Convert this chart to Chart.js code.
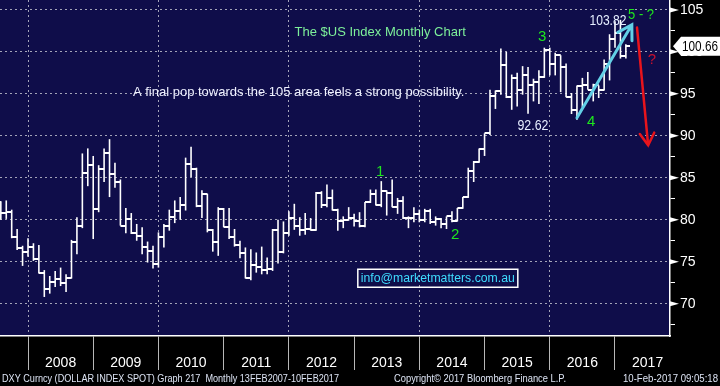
<!DOCTYPE html>
<html><head><meta charset="utf-8">
<script src="https://cdn.jsdelivr.net/npm/chart.js@4.4.1/dist/chart.umd.min.js"></script>
<style>html,body{margin:0;padding:0;background:#000;}canvas{display:block;}</style>
</head><body>
<canvas id="c" width="720" height="386"></canvas>
<script>
// ---- data (DXY monthly OHLC, Jul 2007 - Feb 2017) ----
const months = [
 '2007-07','2007-08','2007-09','2007-10','2007-11','2007-12',
 '2008-01','2008-02','2008-03','2008-04','2008-05','2008-06','2008-07','2008-08','2008-09','2008-10','2008-11','2008-12',
 '2009-01','2009-02','2009-03','2009-04','2009-05','2009-06','2009-07','2009-08','2009-09','2009-10','2009-11','2009-12',
 '2010-01','2010-02','2010-03','2010-04','2010-05','2010-06','2010-07','2010-08','2010-09','2010-10','2010-11','2010-12',
 '2011-01','2011-02','2011-03','2011-04','2011-05','2011-06','2011-07','2011-08','2011-09','2011-10','2011-11','2011-12',
 '2012-01','2012-02','2012-03','2012-04','2012-05','2012-06','2012-07','2012-08','2012-09','2012-10','2012-11','2012-12',
 '2013-01','2013-02','2013-03','2013-04','2013-05','2013-06','2013-07','2013-08','2013-09','2013-10','2013-11','2013-12',
 '2014-01','2014-02','2014-03','2014-04','2014-05','2014-06','2014-07','2014-08','2014-09','2014-10','2014-11','2014-12',
 '2015-01','2015-02','2015-03','2015-04','2015-05','2015-06','2015-07','2015-08','2015-09','2015-10','2015-11','2015-12',
 '2016-01','2016-02','2016-03','2016-04','2016-05','2016-06','2016-07','2016-08','2016-09','2016-10','2016-11','2016-12',
 '2017-01','2017-02'
];
const opens = [
 82.1, 80.8, 80.9, 77.9, 76.6, 76.1,
 76.7, 75.3, 73.7, 71.8, 72.6, 72.9, 72.5, 73.1, 77.3, 79.3, 85.6, 86.5,
 81.3, 86.0, 88.0, 85.4, 84.5, 79.3, 80.1, 78.4, 78.1, 76.7, 76.3, 74.7,
 77.9, 79.3, 80.3, 81.1, 81.8, 86.6, 86.0, 81.6, 83.1, 78.8, 77.4, 81.3,
 79.1, 77.9, 77.0, 76.0, 73.1, 74.6, 74.4, 74.0, 74.1, 78.8, 76.2, 78.4,
 80.2, 79.3, 78.8, 78.9, 78.8, 83.2, 81.7, 82.6, 81.2, 79.9, 80.0, 80.2,
 79.8, 79.2, 82.1, 83.1, 81.7, 83.4, 83.2, 81.5, 82.2, 80.2, 80.2, 80.7,
 80.0, 81.1, 79.7, 80.1, 79.5, 80.4, 79.8, 81.4, 82.7, 85.8, 86.9, 88.4,
 90.3, 94.8, 95.3, 98.4, 94.6, 96.9, 95.5, 97.3, 96.0, 96.4, 97.0, 100.2,
 98.6, 99.6, 98.2, 94.6, 93.1, 95.9, 96.1, 95.5, 96.0, 95.4, 98.5, 101.5,
 102.2, 99.5
];
const highs = [
 82.2, 82.3, 81.2, 78.9, 76.9, 77.8,
 77.2, 77.0, 74.0, 73.3, 73.9, 74.3, 73.5, 77.6, 80.3, 87.9, 88.5, 87.6,
 86.5, 88.5, 89.6, 86.8, 84.8, 81.4, 80.8, 79.5, 79.1, 77.4, 76.9, 78.5,
 79.5, 81.2, 82.3, 82.7, 87.4, 88.7, 86.2, 83.5, 83.1, 78.9, 81.5, 81.4,
 81.4, 78.9, 77.5, 76.7, 76.5, 76.1, 76.8, 75.5, 78.9, 80.0, 79.8, 81.0,
 81.9, 80.3, 80.8, 80.2, 83.3, 83.4, 84.2, 83.6, 81.3, 80.4, 81.5, 80.7,
 80.9, 82.1, 83.6, 83.6, 84.6, 83.5, 84.8, 82.6, 82.8, 80.4, 81.5, 81.2,
 81.3, 81.3, 80.4, 80.2, 80.4, 81.0, 81.4, 82.7, 86.2, 87.0, 88.5, 90.3,
 95.5, 95.4, 100.4, 100.0, 97.3, 97.5, 98.3, 98.2, 96.8, 97.8, 100.5, 100.5,
 99.9, 99.6, 98.6, 95.1, 96.0, 96.9, 97.6, 96.2, 96.0, 99.1, 102.1, 103.65,
 103.82, 100.9
];
const lows = [
 80.0, 80.1, 77.8, 76.4, 74.5, 75.6,
 75.1, 73.6, 70.8, 71.2, 72.0, 72.1, 71.4, 73.0, 75.9, 79.0, 84.0, 77.7,
 80.9, 84.5, 82.7, 83.8, 79.3, 78.4, 78.3, 77.5, 75.9, 74.9, 74.2, 74.3,
 76.7, 78.7, 79.6, 80.0, 81.1, 85.1, 81.5, 80.2, 78.5, 76.2, 75.7, 79.1,
 77.7, 76.8, 75.4, 73.0, 72.8, 73.7, 73.5, 73.5, 73.9, 74.8, 76.0, 78.1,
 78.8, 78.1, 78.2, 78.7, 78.7, 81.4, 81.5, 81.1, 78.7, 79.0, 79.9, 79.2,
 79.1, 79.1, 82.0, 81.7, 81.5, 80.5, 81.5, 80.7, 80.1, 79.0, 79.7, 79.7,
 79.7, 79.5, 79.3, 79.0, 78.9, 79.7, 79.8, 81.3, 82.6, 84.5, 86.8, 87.6,
 90.1, 93.2, 94.9, 94.5, 93.1, 93.5, 94.9, 92.62, 94.1, 93.8, 96.9, 97.2,
 97.2, 95.2, 94.6, 92.6, 91.9, 93.4, 95.5, 94.1, 94.5, 95.4, 96.6, 100.5,
 99.2, 99.2
];
const closes = [
 80.8, 80.9, 77.9, 76.6, 76.1, 76.7,
 75.3, 73.7, 71.8, 72.6, 72.9, 72.5, 73.1, 77.3, 79.3, 85.6, 86.5, 81.3,
 86.0, 88.0, 85.4, 84.5, 79.3, 80.1, 78.4, 78.1, 76.7, 76.3, 74.7, 77.9,
 79.3, 80.3, 81.1, 81.8, 86.6, 86.0, 81.6, 83.1, 78.8, 77.4, 81.3, 79.1,
 77.9, 77.0, 76.0, 73.1, 74.6, 74.4, 74.0, 74.1, 78.8, 76.2, 78.4, 80.2,
 79.3, 78.8, 78.9, 78.8, 83.2, 81.7, 82.6, 81.2, 79.9, 80.0, 80.2, 79.8,
 79.2, 82.1, 83.1, 81.7, 83.4, 83.2, 81.5, 82.2, 80.2, 80.2, 80.7, 80.0,
 81.1, 79.7, 80.1, 79.5, 80.4, 79.8, 81.4, 82.7, 85.8, 86.9, 88.4, 90.3,
 94.8, 95.3, 98.4, 94.6, 96.9, 95.5, 97.3, 96.0, 96.4, 97.0, 100.2, 98.6,
 99.6, 98.2, 94.6, 93.1, 95.9, 96.1, 95.5, 96.0, 95.4, 98.5, 101.5, 102.2,
 99.5, 100.66
];
const yearLabels = ['2008','2009','2010','2011','2012','2013','2014','2015','2016','2017'];
const yTickValues = [67.5,70,72.5,75,77.5,80,82.5,85,87.5,90,92.5,95,97.5,100,102.5,105];

// ---- styling ----
const FONT = "'Liberation Sans',Arial,sans-serif";
const NAVY = '#0f0d4a';
const GRID = 'rgba(180,180,196,0.9)';
const NONE = 'rgba(0,0,0,0)';

// month position: months since Dec 2006 (bar placed at month end)
const monthPos = s => { const [y, m] = s.split('-').map(Number); return (y - 2007) * 12 + m; };
const xs = months.map(monthPos);
const yearPos = yearLabels.map(y => (Number(y) - 2007) * 12);

function tickImage(side) {
  const c = document.createElement('canvas');
  c.width = 8; c.height = 2;
  const g = c.getContext('2d');
  g.fillStyle = '#ffffff';
  g.fillRect(side === 'left' ? 0 : 4, 0, 4, 2);
  return c;
}

// annotations (anchored in data units: month position / index value)
const GREEN = '#1ee61e';
const notes = [
  {text:'The $US Index Monthly Chart', t:76.8, v:102.3, color:'#7df09a', font:'13px ' + FONT},
  {text:'A final pop towards the 105 area feels a strong possibility.', t:61.8, v:95.2, color:'#eef0ff', font:'13px ' + FONT, w:333},
  {text:'1', t:76.8, v:85.65, color:GREEN, font:'15px ' + FONT},
  {text:'2', t:90.6, v:78.2, color:GREEN, font:'15px ' + FONT},
  {text:'3', t:106.6, v:101.8, color:GREEN, font:'15px ' + FONT},
  {text:'4', t:115.6, v:91.67, color:GREEN, font:'15px ' + FONT},
  {text:'5 - ?', t:124.8, v:104.4, color:GREEN, font:'15px ' + FONT, w:26},
  {text:'92.62', t:104.9, v:91.2, color:'#e6eeff', font:'15px ' + FONT, w:31},
  {text:'103.82', t:118.7, v:103.7, color:'#e6eeff', font:'15px ' + FONT, w:37},
  {text:'?', t:126.8, v:99.1, color:'#c8102e', font:'15px ' + FONT}
];
const arrows = [
  {from:[113.0, 92.14], to:[123.1, 103.23], color:'#62cfe6', width:3, head:16},
  {from:[124.05, 102.9], to:[126.1, 88.87], color:'#e8141c', width:2.5, head:14}
];
const infoBox = {text:'info@marketmatters.com.au', t:87.4, v:73.03, color:'#3fdcff', font:'12.5px ' + FONT};

const bgPlugin = {
  id: 'bg',
  beforeDraw(chart) {
    const {ctx, chartArea: a} = chart;
    ctx.save();
    ctx.fillStyle = '#000';
    ctx.fillRect(0, 0, chart.width, chart.height);
    ctx.fillStyle = NAVY;
    ctx.fillRect(a.left, a.top, a.right - a.left, a.bottom - a.top);
    ctx.restore();
  }
};

const overlayPlugin = {
  id: 'overlay',
  afterDraw(chart) {
    const {ctx, chartArea: a} = chart;
    const X = v => chart.scales.x.getPixelForValue(v);
    const Y = v => chart.scales.y.getPixelForValue(v);
    ctx.save();
    // major tick triangles on the right axis
    ctx.fillStyle = '#fff';
    yTickValues.filter(v => v % 5 === 0).forEach(v => {
      const y = Y(v);
      ctx.beginPath();
      ctx.moveTo(a.right, y - 2.5);
      ctx.lineTo(a.right + 9, y);
      ctx.lineTo(a.right, y + 2.5);
      ctx.closePath();
      ctx.fill();
    });
    // text notes
    ctx.textAlign = 'center';
    ctx.textBaseline = 'middle';
    notes.forEach(n => {
      ctx.font = n.font;
      ctx.fillStyle = n.color;
      if (n.w) ctx.fillText(n.text, X(n.t), Y(n.v), n.w);
      else ctx.fillText(n.text, X(n.t), Y(n.v));
    });
    // arrows
    arrows.forEach(ar => {
      const x0 = X(ar.from[0]), y0 = Y(ar.from[1]);
      const x1 = X(ar.to[0]), y1 = Y(ar.to[1]);
      const ang = Math.atan2(y0 - y1, x0 - x1);
      const h = 31 * Math.PI / 180;
      ctx.strokeStyle = ar.color;
      ctx.lineWidth = ar.width;
      ctx.lineCap = 'round';
      ctx.beginPath();
      ctx.moveTo(x0, y0); ctx.lineTo(x1, y1);
      ctx.moveTo(x1 + ar.head * Math.cos(ang + h), y1 + ar.head * Math.sin(ang + h));
      ctx.lineTo(x1, y1);
      ctx.lineTo(x1 + ar.head * Math.cos(ang - h), y1 + ar.head * Math.sin(ang - h));
      ctx.stroke();
    });
    // info box
    ctx.font = infoBox.font;
    const bx = X(infoBox.t), by = Y(infoBox.v);
    const tw = Math.min(ctx.measureText(infoBox.text).width, 154);
    ctx.strokeStyle = '#fff';
    ctx.lineWidth = 1.5;
    ctx.strokeRect(bx - tw / 2 - 3, by - 9, tw + 6, 18);
    ctx.fillStyle = infoBox.color;
    ctx.fillText(infoBox.text, bx, by + 0.5, 154);
    // last price box
    const last = closes[closes.length - 1];
    const py = Y(last);
    const xl = a.right + 3;
    ctx.fillStyle = '#fff';
    ctx.beginPath();
    ctx.moveTo(xl, py);
    ctx.lineTo(xl + 8, py - 9.5);
    ctx.lineTo(chart.width, py - 9.5);
    ctx.lineTo(chart.width, py + 9.5);
    ctx.lineTo(xl + 8, py + 9.5);
    ctx.closePath();
    ctx.fill();
    ctx.fillStyle = '#000';
    ctx.font = '15px ' + FONT;
    ctx.textAlign = 'left';
    ctx.fillText(last.toFixed(2), xl + 9, py + 0.5, 36);
    // footer
    ctx.font = '11px ' + FONT;
    ctx.fillStyle = '#dde4f4';
    const fy = chart.height - 7;
    ctx.textAlign = 'left';
    ctx.fillText('DXY Curncy (DOLLAR INDEX SPOT) Graph 217  Monthly 13FEB2007-10FEB2017', 2, fy, 337);
    ctx.fillText('Copyright\u00A9 2017 Bloomberg Finance L.P.', 394, fy, 172);
    ctx.textAlign = 'right';
    ctx.fillText('10-Feb-2017 09:05:18', chart.width - 2, fy, 95);
    ctx.restore();
  }
};

const zeroPad = s => { s.paddingLeft = 0; s.paddingRight = 0; s.paddingTop = 0; s.paddingBottom = 0; };

new Chart(document.getElementById('c'), {
  type: 'bar',
  data: {
    datasets: [
      {
        type: 'bar',
        data: xs.map((x, i) => ({x: x, y: [lows[i], highs[i]]})),
        backgroundColor: '#ffffff',
        borderWidth: 0,
        barThickness: 1.6,
        inflateAmount: 0,
        grouped: false,
        order: 3
      },
      {
        type: 'scatter',
        data: xs.map((x, i) => ({x: x, y: opens[i]})),
        pointStyle: tickImage('left'),
        pointRadius: 1,
        pointHoverRadius: 1,
        order: 2
      },
      {
        type: 'scatter',
        data: xs.map((x, i) => ({x: x, y: closes[i]})),
        pointStyle: tickImage('right'),
        pointRadius: 1,
        pointHoverRadius: 1,
        order: 1
      }
    ]
  },
  options: {
    responsive: false,
    animation: false,
    events: [],
    layout: {padding: 0, autoPadding: false},
    plugins: {legend: {display: false}, tooltip: {enabled: false}},
    scales: {
      x: {
        type: 'linear',
        min: 6.848,
        max: 130.12,
        offset: false,
        afterBuildTicks: s => { s.ticks = yearPos.map(v => ({value: v})); },
        afterFit: s => { s.height = 50; zeroPad(s); },
        ticks: {
          autoSkip: false,
          maxRotation: 0,
          color: '#ffffff',
          font: {family: FONT, size: 14},
          padding: -15,
          labelOffset: 32.6,
          callback: (v, i) => yearLabels[i]
        },
        grid: {
          offset: false,
          color: c => (c.tick && (c.tick.value / 12) % 2 === 1) ? GRID : NONE,
          lineWidth: 1,
          tickColor: '#b8b8b8',
          tickLength: 34,
          tickWidth: 1,
          tickBorderDash: []
        },
        border: {display: true, color: '#ffffff', width: 1.5, dash: [2, 3]}
      },
      y: {
        position: 'right',
        min: 66.15,
        max: 106.18,
        afterBuildTicks: s => { s.ticks = yTickValues.map(v => ({value: v})); },
        afterFit: s => { s.width = 50; zeroPad(s); },
        ticks: {
          autoSkip: false,
          color: '#ffffff',
          font: {family: FONT, size: 14},
          padding: 5,
          callback: v => (v % 5 === 0 ? String(v) : '')
        },
        grid: {
          color: c => (c.tick && c.tick.value % 5 === 0) ? GRID : NONE,
          lineWidth: 1,
          tickColor: '#ffffff',
          tickLength: 5,
          tickWidth: 1,
          tickBorderDash: []
        },
        border: {display: true, color: '#ffffff', width: 1.5, dash: [2, 3]}
      }
    }
  },
  plugins: [bgPlugin, overlayPlugin]
});
</script>
</body></html>
